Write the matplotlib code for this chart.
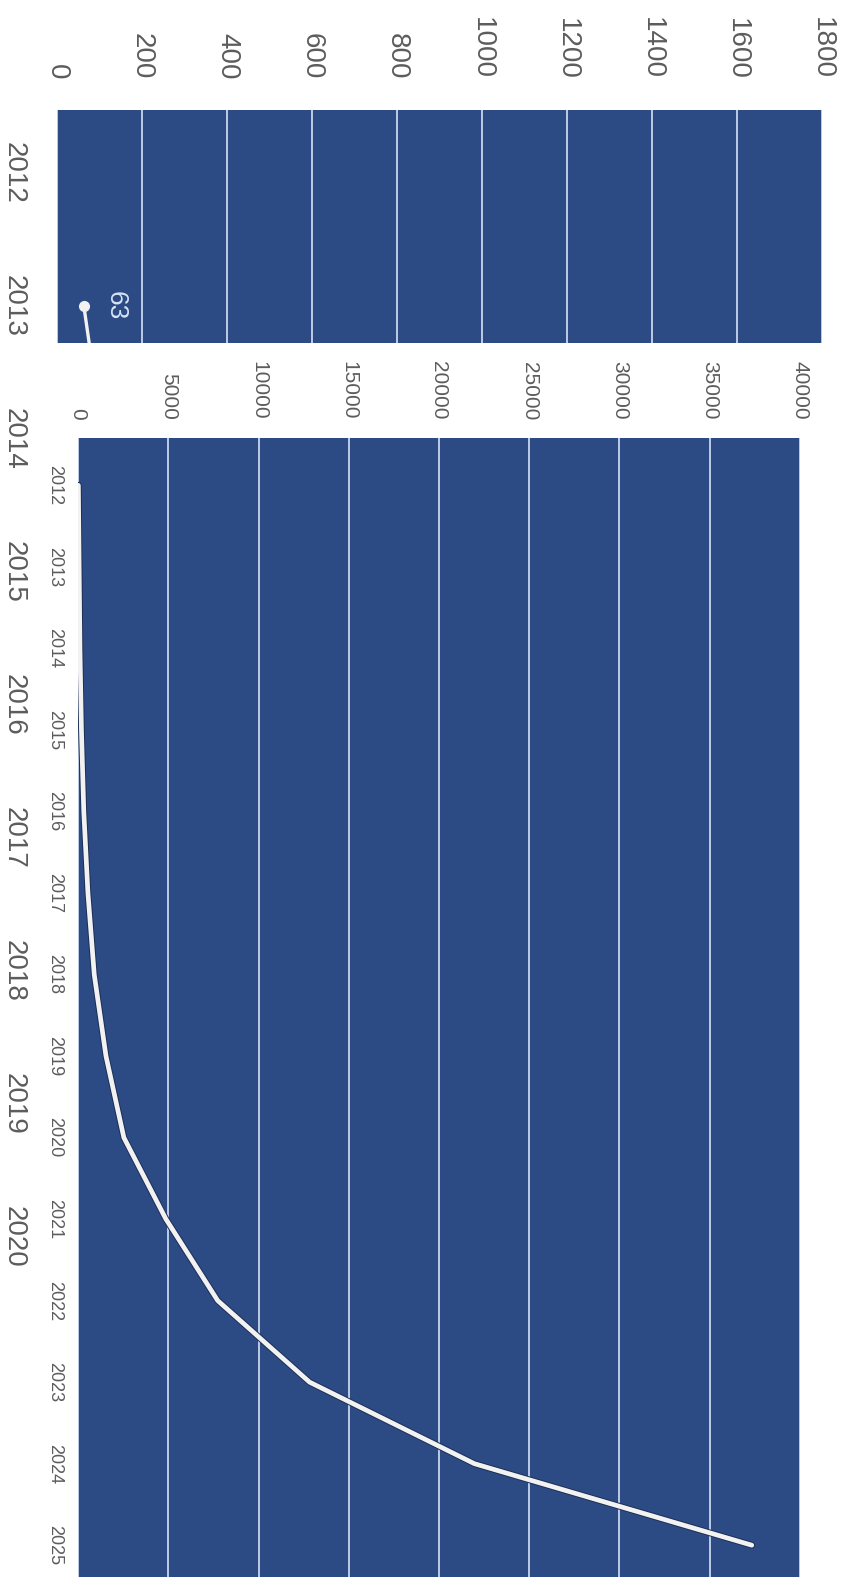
import matplotlib
matplotlib.use('Agg')
import matplotlib.pyplot as plt
import matplotlib.patheffects as pe
from matplotlib.patches import Rectangle

# main chart (the one partly hidden at the back)
main_years = [2013, 2014, 2015, 2016, 2017, 2018, 2019, 2020]
main_values = [63, 108, 190, 320, 550, 900, 1550, 2540]
main_xticks = [0, 200, 400, 600, 800, 1000, 1200, 1400, 1600, 1800]
main_yticks = [2012, 2013, 2014, 2015, 2016, 2017, 2018, 2019, 2020]

# inset chart
inset_years = [2012, 2013, 2014, 2015, 2016, 2017, 2018, 2019,
               2020, 2021, 2022, 2023, 2024, 2025]
inset_values = [20, 63, 108, 190, 320, 550, 900, 1550,
                2540, 4870, 7740, 12830, 21960, 37330]
inset_xticks = [0, 5000, 10000, 15000, 20000, 25000, 30000, 35000, 40000]

W, H = 848, 1577
BLUE = '#2c4a84'
GRID = '#d6e2f6'
TEXT = '#5c5c5c'


def box(left, top, right, bottom):
    # pixel box -> figure fraction
    return [left / W, 1 - bottom / H, (right - left) / W, (bottom - top) / H]


def style(ax):
    ax.set_facecolor(BLUE)
    for s in ax.spines.values():
        s.set_visible(False)
    ax.xaxis.tick_top()
    ax.grid(axis='x', color=GRID, linewidth=1.2)
    ax.set_axisbelow(True)


def rotate_labels(ax):
    for lab in ax.get_xticklabels():
        lab.set_rotation(-90)
        lab.set_va('bottom')
        lab.set_ha('center')
    for lab in ax.get_yticklabels():
        lab.set_rotation(-90)
        lab.set_va('center')
        lab.set_ha('right')


def main():
    plt.rcParams['font.family'] = ['Liberation Sans', 'DejaVu Sans']
    fig = plt.figure(figsize=(W / 100, H / 100), dpi=100)

    ax = fig.add_axes(box(57, 110, 822, 1307))
    ax.set_zorder(0)
    style(ax)
    ax.set_xlim(0, 1800)
    ax.set_ylim(2020.53, 2011.53)
    ax.set_xticks(main_xticks)
    ax.set_yticks(main_yticks)
    ax.tick_params(length=0, labelcolor=TEXT, labelsize=20)
    ax.tick_params(axis='x', pad=22)
    ax.tick_params(axis='y', pad=22)
    rotate_labels(ax)
    ax.plot(main_values, main_years, color='#f2f2f2', linewidth=2.4,
            marker='o', markersize=7, markerfacecolor='#f2f2f2',
            markeredgecolor='#f2f2f2', zorder=3)
    for v, y in zip(main_values, main_years):
        ax.annotate(str(v), (v, y), xytext=(14, 0), textcoords='offset points',
                    rotation=-90, ha='left', va='center', fontsize=19,
                    color=GRID, annotation_clip=True)

    # white card the inset sits on
    fig.add_artist(Rectangle((35 / W, 0), 1 - 35 / W, 1 - 343 / H,
                             transform=fig.transFigure, facecolor='white',
                             edgecolor='none', zorder=1))

    ins = fig.add_axes(box(78, 438, 800, 1577))
    ins.set_zorder(2)
    style(ins)
    ins.set_xlim(0, 40000)
    ins.set_ylim(2025.39, 2011.42)
    ins.set_xticks(inset_xticks)
    ins.set_yticks(inset_years)
    ins.tick_params(length=0, labelcolor=TEXT)
    ins.tick_params(axis='x', pad=13, labelsize=15)
    ins.tick_params(axis='y', pad=11, labelsize=13)
    rotate_labels(ins)
    ins.plot(inset_values, inset_years, color='#f2f2f2', linewidth=3.4,
             solid_capstyle='round', zorder=3,
             path_effects=[pe.Stroke(linewidth=4.8, foreground='#1c2f55'),
                           pe.Normal()])

    fig.savefig('out.png', dpi=100, facecolor='white')


main()
